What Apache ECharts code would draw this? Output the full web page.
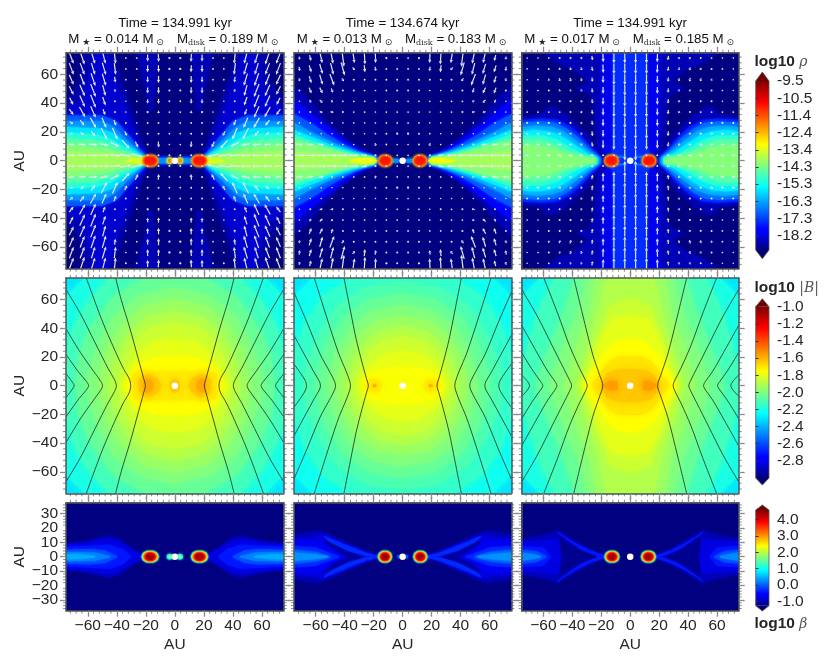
<!DOCTYPE html>
<html><head><meta charset="utf-8">
<style>html,body{margin:0;padding:0;background:#fff}#c{width:830px;height:664px}</style>
<script src="https://cdn.jsdelivr.net/npm/echarts@6/dist/echarts.min.js"></script>
</head><body><div id="c"></div>
<script>
// ---------- tick labels ----------
const xTicks=[-60,-40,-20,0,20,40,60];
const yTicksTall=[-60,-40,-20,0,20,40,60];
const yTicksShort=[-30,-20,-10,0,10,20,30];
const yTicksShortExtra=[-20,20];
const cbRhoTicks=[-9.5,-10.47,-11.43,-12.4,-13.37,-14.33,-15.3,-16.27,-17.25,-18.2];
const cbMagTicks=[-1,-1.2,-1.4,-1.6,-1.8,-2,-2.2,-2.4,-2.6,-2.8];
const cbBetaTicks=[4,3,2,1,0,-1];
// ---------- headers ----------
const times=['134.991','134.674','134.991'];
const mStar=['0.014','0.013','0.017'];
const mDisk=['0.189','0.183','0.185'];
// ---------- fields: filled contours [level, boundary in the upper right quadrant, AU] ----------
const rho1=[
[-19,[[0,0],[75,0],[75,75],[0,75]]],
[-18.5,[[12,75],[14,50],[16,35],[18,35],[20,50],[24,65],[25,75],[25,75]]],
[-18.6,[[18,0],[18,3],[22,10],[28,30],[36,53],[43,75],[62,75],[66,53],[75,42],[75,0]]],
[-18.25,[[20,0],[20,5],[28,20],[35,38],[43,62],[47,75],[55,75],[60,55],[65,42],[75,36],[75,0]]],
[-18,[[4,0],[5,2.5],[20,3],[20,0]]],
[-17,[[20,0],[20,3],[30,15],[40,27],[50,31],[75,31],[75,0]]],
[-16.4,[[21,0],[21,3],[32,13],[42,23],[50,27],[75,27],[75,0]]],
[-15.7,[[22,0],[22,3],[33,11],[43,19],[52,22],[75,23],[75,0]]],
[-15.1,[[22,0],[22,2.5],[35,9],[45,15],[55,18],[75,19],[75,0]]],
[-14.6,[[22,0],[22,2],[35,6.5],[46,11.5],[56,14],[75,15],[75,0]]],
[-14.2,[[21,0],[21,1.5],[35,4.5],[50,8.5],[75,11],[75,0]]],
[-13.9,[[21,0],[21,1],[35,3],[50,5],[75,6],[75,0]]],
[-13.4,[[20,0],[20,2],[24,1.5],[30,.8],[33,0]]],
[-16.5,[[5,0],[5,1.6],[12,1.6],[12,0]]],
[-15,[[1.7,0],[2,1.5],[3.5,2],[5,1.5],[5.3,0]]],
[-13,[[2.2,0],[2.6,1.3],[3.5,1.7],[4.4,1.3],[4.8,0]]],
[-12,[[2.6,0],[3,1.2],[3.5,1.4],[4,1.2],[4.4,0]]]];
const rho2=[
[-19,[[0,0],[75,0],[75,75],[0,75]]],
[-18.5,[[10,0],[10,2],[16,3],[25,6],[35,12],[45,20],[55,30],[65,42],[75,52],[75,0]]],
[-17.8,[[16,0],[16,2.5],[27,6],[38,12],[48,20],[58,28],[68,36],[75,42],[75,0]]],
[-17,[[18,0],[18,2],[30,6],[42,12],[52,18],[62,25],[75,32],[75,0]]],
[-16.3,[[18,0],[18,2],[32,6],[45,11],[56,16],[66,21],[75,26],[75,0]]],
[-15.6,[[20,0],[20,2],[34,5.5],[48,10],[60,15],[75,21],[75,0]]],
[-15,[[20,0],[20,2],[36,5],[50,9],[62,13],[75,18],[75,0]]],
[-14.6,[[20,0],[20,1.8],[38,4.5],[52,8.5],[63,11.5],[75,15.5],[75,0]]],
[-14.2,[[20,0],[20,1.5],[32,3],[44,6],[55,9],[75,13],[75,0]]],
[-13.9,[[20,0],[30,1.8],[42,3.5],[58,4.5],[75,6],[75,0]]],
[-13.2,[[18,0],[20,1.5],[26,1.5],[32,.7],[36,0]]],
[-16.5,[[2,0],[3,1],[8,1],[8,0]]]];
const rho3=[
[-19,[[0,0],[75,0],[75,75],[0,75]]],
[-18.5,[[0,0],[20,0],[22,8],[24,20],[25,40],[28,47],[37,50],[28,55],[38,63],[50,68],[60,75],[0,75]]],
[-18.5,[[18,0],[18,2],[22,6],[30,18],[38,26],[45,32],[53,37],[57,37],[62,32],[75,30],[75,0]]],
[-18,[[0,0],[15,0],[15,3],[19,10],[20,30],[20,75],[0,75]]],
[-17.4,[[0,0],[13,0],[13,3],[12,10],[12,75],[0,75]]],
[-17.5,[[20,0],[20,2],[26,8],[35,18],[42,24],[50,28],[60,29],[75,28],[75,0]]],
[-16.8,[[21,0],[21,2],[27,7],[36,16],[44,22],[52,26],[62,27],[75,26],[75,0]]],
[-16.2,[[22,0],[22,2],[28,6],[38,14],[46,20],[54,23],[65,24],[75,23],[75,0]]],
[-15.6,[[23,0],[23,2],[30,5],[40,12],[48,17],[56,20],[66,21],[75,20],[75,0]]],
[-15,[[24,0],[24,2],[32,4],[42,9],[50,14],[60,17],[75,17],[75,0]]],
[-14.6,[[24,0],[24,1.5],[34,3.5],[44,7],[52,11],[62,14],[75,14],[75,0]]],
[-14.2,[[24,0],[24,1],[36,2.5],[46,5],[56,9],[75,11],[75,0]]],
[-16,[[3.5,0],[3.5,2.3],[9,2.3],[9,0]]],
[-17.4,[[3.5,0],[3.5,1.6],[9,1.6],[9,0]]]];
const rhoClumpCentre=[17,12,13], rhoClumpHalfWidth=[5,4.3,4.4];
const rhoClump=[
[-13,[[-1,0],[-.85,2.5],[-.4,3.5],[.4,3.5],[.85,2.5],[1,0]]],
[-12.2,[[-.92,0],[-.78,2.3],[-.37,3.3],[.37,3.3],[.78,2.3],[.92,0]]],
[-11.4,[[-.85,0],[-.72,2.1],[-.34,3],[.34,3],[.72,2.1],[.85,0]]],
[-10.9,[[-.7,0],[-.56,1.6],[-.28,2.2],[.28,2.2],[.56,1.6],[.7,0]]]];

const mag1=[
[-2.3,[[0,0],[75,0],[75,75],[0,75]]],
[-2.2,[[0,0],[0,75],[62,75],[75,62],[75,0]]],
[-2.12,[[0,0],[0,75],[45,75],[60,58],[70,40],[75,20],[75,0]]],
[-2.05,[[0,0],[0,75],[20,75],[42,62],[58,40],[66,20],[68,0]]],
[-2,[[0,0],[0,68],[25,62],[42,48],[52,30],[58,12],[60,0]]],
[-1.95,[[0,0],[0,60],[22,55],[36,42],[46,26],[50,10],[52,0]]],
[-1.9,[[0,0],[0,52],[20,47],[32,36],[40,22],[44,8],[45,0]]],
[-1.85,[[0,0],[0,44],[18,40],[28,30],[35,18],[38,6],[39,0]]],
[-1.8,[[0,0],[0,32],[15,30],[24,23],[30,14],[33,5],[36,0]]],
[-1.75,[[0,0],[0,20],[14,19],[24,15],[29,10],[31,4],[34,0]]],
[-1.71,[[0,0],[0,10],[14,9.5],[22,11],[28,9],[30,4],[28,0]]],
[-1.65,[[9,0],[12,5],[18,8],[23,6],[25,2],[24,0]]],
[-1.58,[[15,0],[16,3],[19,5],[21,3.5],[21.5,0]]],
[-1.65,[[0,0],[0,5],[2,4],[3,1.5],[3,0]]]];
const mag2=[
[-2.3,[[0,0],[75,0],[75,75],[0,75]]],
[-2.22,[[0,0],[0,75],[62,75],[75,62],[75,0]]],
[-2.15,[[0,0],[0,75],[35,75],[55,62],[68,42],[75,20],[75,0]]],
[-2.1,[[0,0],[0,72],[25,68],[45,55],[58,35],[66,15],[68,0]]],
[-2.05,[[0,0],[0,64],[22,60],[40,48],[52,30],[58,12],[60,0]]],
[-2,[[0,0],[0,56],[20,52],[35,42],[45,26],[50,10],[52,0]]],
[-1.95,[[0,0],[0,48],[18,45],[31,35],[39,22],[44,8],[45,0]]],
[-1.9,[[0,0],[0,41],[16,38],[27,29],[34,18],[38,6],[39,0]]],
[-1.85,[[0,0],[0,34],[14,31],[23,24],[29,14],[33,5],[34,0]]],
[-1.8,[[0,0],[0,24],[12,22],[20,17],[26,10],[28,4],[29,0]]],
[-1.76,[[0,0],[0,13],[10,12],[20,10],[26,6],[28,0]]],
[-1.72,[[14,0],[16,4],[20,5],[24,4],[26,0]]],
[-1.6,[[18,0],[19,1.2],[21,0]]]];
const mag3=[
[-2.3,[[0,0],[75,0],[75,75],[0,75]]],
[-2.2,[[0,0],[0,75],[62,75],[75,62],[75,0]]],
[-2.12,[[0,0],[0,75],[52,75],[62,55],[70,30],[75,10],[75,0]]],
[-2.05,[[0,0],[0,75],[38,75],[46,50],[55,28],[62,10],[65,0]]],
[-2,[[0,0],[0,75],[30,75],[36,50],[45,30],[52,10],[55,0]]],
[-1.95,[[0,0],[0,75],[24,75],[28,50],[36,30],[42,10],[45,0]]],
[-1.9,[[0,0],[0,75],[16,75],[22,50],[28,30],[34,12],[37,0]]],
[-1.85,[[0,0],[0,60],[14,55],[18,42],[24,28],[28,14],[33,0]]],
[-1.8,[[0,0],[0,48],[12,46],[18,36],[22,26],[26,14],[30,2],[32,0]]],
[-1.75,[[0,0],[0,32],[10,30],[17,23],[22,15],[27,8],[31,2],[31,0]]],
[-1.7,[[0,0],[0,20],[8,20],[14,17],[19,11],[23,5],[26,1.5],[26,0]]],
[-1.64,[[0,0],[0,11],[6,11],[12,10],[16,8],[18,4],[20,1],[20,0]]],
[-1.56,[[9,0],[9,3],[14,3],[17,1.5],[18,0]]]];

const beta1=[
[-1.25,[[0,0],[75,0],[75,75],[0,75]]],
[-.95,[[20,0],[30,6],[38,12],[45,14.5],[55,12],[65,10],[75,9],[75,0]]],
[-.7,[[21,0],[32,6],[40,11],[48,12],[58,10],[75,8],[75,0]]],
[-.4,[[30,0],[36,5],[45,8],[55,7.5],[75,6.5],[75,0]]],
[-.1,[[40,0],[48,4],[58,5],[75,4.5],[75,0]]],
[.2,[[45,0],[55,2.5],[75,3],[75,0]]],
[.45,[[55,0],[65,1.2],[75,1.5],[75,0]]],
[.8,[[1.5,0],[2,1.3],[3.5,1.7],[5,1.3],[5.3,0]]],
[1.6,[[2.6,0],[3.2,.9],[4,.9],[4.5,0]]]];
const beta2=[
[-1.25,[[0,0],[75,0],[75,75],[0,75]]],
[-.95,[[15,0],[25,3.5],[40,10],[50,15],[58,18],[66,17],[75,15],[75,0]]],
[-.7,[[15,0],[25,3],[40,9],[50,13],[56,15],[62,13],[75,12],[75,0]]],
[-1.05,[[22,0],[32,2.5],[42,6],[50,10],[54,10],[48,5],[42,2],[40,0]]],
[-.3,[[16,0],[25,2.2],[36,6.5],[46,10.5],[54,14],[50,10.5],[38,4.5],[26,1],[20,0]]],
[-.6,[[40,0],[48,4],[54,9],[62,11],[75,10],[75,0]]],
[-.3,[[44,0],[52,3],[60,6],[75,7],[75,0]]],
[0,[[50,0],[60,3],[75,4.5],[75,0]]],
[.3,[[52,0],[62,1.5],[75,2.5],[75,0]]],
[-.1,[[2,0],[2.5,1],[3.2,1],[3.4,0]]]];
const beta3=[
[-1.25,[[0,0],[75,0],[75,75],[0,75]]],
[-.95,[[16,0],[28,5],[40,12],[50,18],[60,15],[75,12],[75,0]]],
[-1.15,[[22,0],[32,3],[42,8],[48,12.5],[48,4],[47,0]]],
[-.4,[[16,0],[28,4],[38,9],[46,14],[50,17],[44,12.5],[34,5.5],[26,2],[20,0]]],
[-.7,[[48,0],[50,12],[60,11],[75,10],[75,0]]],
[-.4,[[55,0],[60,6],[75,7],[75,0]]],
[-.1,[[58,0],[65,3.5],[75,4.5],[75,0]]],
[.25,[[62,0],[68,1.5],[75,2.5],[75,0]]]];
const betaClumpCentre=[17,12.2,12.6], betaClumpHalfWidth=[5.6,4.5,4.8];
const betaClump=[
[.8,[[-1,0],[-.85,2.5],[-.4,3.7],[.4,3.7],[.85,2.5],[1,0]]],
[1.6,[[-.92,0],[-.78,2.3],[-.37,3.4],[.37,3.4],[.78,2.3],[.92,0]]],
[2.4,[[-.85,0],[-.72,2.1],[-.34,3.1],[.34,3.1],[.72,2.1],[.85,0]]],
[3,[[-.78,0],[-.65,1.9],[-.3,2.8],[.3,2.8],[.65,1.9],[.78,0]]],
[3.8,[[-.62,0],[-.5,1.7],[-.24,2.4],[.24,2.4],[.5,1.7],[.62,0]]],
[4.3,[[-.42,0],[-.34,1.2],[-.16,1.7],[.16,1.7],[.34,1.2],[.42,0]]]];
// ---------- magnetic field lines, upper right quadrant, AU ----------
const lines1=[
[[20.3,0],[21.5,5],[25,18],[31,40],[37,60],[40.8,75]],
[[30.4,0],[31.5,5],[35.5,12],[41.5,25],[50,45],[61,75]],
[[40.3,0],[41.5,4],[46,12],[55,30],[65,50],[75,67]],
[[49.8,0],[51,3],[56,10],[65,23],[75,39.6]],
[[59.4,0],[61,3],[66,9],[75,21.7]],
[[69.4,0],[71,3],[75,8.3]]];
const lines2=[
[[23.7,0],[25,5],[28,16],[32,32],[36,52],[40.5,75]],
[[36,0],[36.5,3],[39,10],[44,22],[50,40],[61,75]],
[[46.3,0],[47,3],[50,9],[57,22],[66,44],[75,65]],
[[56.7,0],[57.5,3],[61,9],[68,22],[75,35]],
[[66.4,0],[67,3],[70,8],[75,15]]];
const lines3=[
[[18.9,0],[21,7],[26,22],[33,50],[39,75]],
[[29.7,0],[31,4],[35,12],[42,28],[50,50],[59.7,75]],
[[40.5,0],[42,4],[46,12],[54,28],[64,48],[75,67]],
[[50.7,0],[52,3],[57,10],[65,24],[75,42]],
[[60.4,0],[62,3],[67,10],[75,23]],
[[69.6,0],[71,3],[75,7.4]]];
// ---------- velocity arrows: grid and inward components for the upper right quadrant, rows top to bottom ----------
const arrowX=[3.75,11.25,18.75,26.25,33.75,41.25,48.75,56.25,63.75,71.25];
const arrowY=[71.25,63.75,56.25,48.75,41.25,33.75,26.25,18.75,11.25,3.75];
const vel1V=[
[1.5,5.5,5,1,1,8,8,8,9,8],[1.5,5,5,1,.7,8,8.5,8,8,8],[1.5,5,4,.7,.7,4,8.5,9,8,7],[1.2,4.5,4,.7,.5,2,7.5,9,8,6],
[1,3.5,3,.7,.5,1,6,9,8,5],[.8,2,1.5,.5,.5,1,4,8,7,4],[.8,1,1,.5,1,4,7,7,4,2],[.7,1,1,1,3,8,8,4,2,1],
[.7,4,1,4,6,3,1,.5,.5,.5],[.5,.5,.5,2,1,.5,0,0,0,0]];
const vel1U=[
[0,.3,0,0,0,.8,2,2.5,3,3],[0,.2,0,0,0,1,2.5,2.5,3,3],[0,0,0,0,0,.5,2.5,3,3,3],[0,0,0,0,0,.3,2,3.5,3.5,3],
[0,0,0,0,0,.2,2,3.5,3.5,2.5],[0,0,0,0,0,.3,1.5,3.5,4,3],[0,0,0,0,.3,1.5,3,4,3,2],[0,0,0,.3,1.5,3.5,4,3,2,1],
[0,.3,.5,2,5,6,6,6,5,4],[1,1,.5,8,8,8,7,7,7,6]];
const vel2V=[
[1,1.5,7,9,7,12,8,7,4,2],[1,1,3,5,2,9,8,7,5,3],[1,1,1,1,1,2,8,7,5,2],[1,1,.7,.7,1,1,3,4,4,1],
[.7,.7,.7,.7,.7,.7,1,2,2,.5],[.7,.7,.5,1,.5,.5,.7,.7,1,.5],[.7,.7,.5,.5,.5,.5,.5,.5,.5,.5],[1.5,1,.7,.5,.5,.5,.5,.5,.5,.5],
[.7,1,2,.5,.5,.5,.5,.5,.5,.5],[.5,.5,1,1,.3,.2,0,0,0,0]];
const vel2U=[
[0,.2,.2,.5,1,1.5,1.5,1.5,1,.5],[0,.2,.5,.5,1.5,2.5,2,2,1.5,.5],[0,.2,.2,.2,.5,1.5,3,2,1.5,.5],[0,0,0,0,.3,.5,1,2,1.5,.5],
[0,0,0,.3,.3,.5,1.5,2,1,.3],[0,0,.2,0,.5,1,2,2,.5,.2],[0,0,0,0,.2,.2,.3,.3,.3,.3],[0,0,0,0,.2,.2,.3,.3,.3,.3],
[0,0,.5,.5,.5,.5,1.5,4,5,5],[.5,.5,1,4,7,7.5,7.5,7.5,7.5,7.5]];
const vel3V=[
[7.6,7.6,6,3,1.5,1.5,1,.7,.5,.5],[7.6,7.6,6,3,2,2,1.5,1,.7,.5],[7.6,7.6,5,3,2,2.5,2,1.5,.7,.5],[7.6,7.6,5,3,1.5,1.5,1.5,1,.7,.5],
[7.6,7.6,5,3,1.5,1.2,1,1,.5,.5],[7.6,7.6,5,3,1.5,1,.7,.5,.5,.5],[7.6,7.6,5,3,1.5,1,.5,.3,.3,.3],[7.6,7.6,5,3.5,1.5,.7,.3,.3,.3,.3],
[7.6,7.6,6,3,1,.3,.3,.3,.3,.3],[7.6,1,1,.5,.2,0,0,0,0,0]];
const vel3U=[
[0,0,.2,.5,.5,.5,.5,.5,.3,.3],[0,0,.2,.5,.5,.7,.7,.5,.3,.3],[0,0,0,.3,.5,.7,.7,.5,.3,.3],[0,0,0,.3,.5,.5,.5,.5,.3,.3],
[0,0,0,.3,.5,.5,.5,.5,.3,.3],[0,0,0,.3,.5,.5,.7,.7,.7,.7],[0,0,0,.3,.5,.7,1,1.2,1.2,1.2],[0,0,0,.3,.7,1.5,2,2,2,2],
[0,0,0,.5,1.5,2,2.5,2.5,2.5,2.5],[0,0,.5,2,2.5,2.5,2.5,2.5,2.5,2.5]];
// small extra marks: white protostar dots
const dotsX=[[0],[0],[0]];
// ---------- palette ----------
const jetStops=[[0,'#00007f'],[.11,'#0000ff'],[.125,'#0000ff'],[.375,'#00ffff'],[.625,'#ffff00'],[.875,'#ff0000'],[1,'#7f0000']];
const frameColor='#4f5656', textColor='#262626', tickColor='#8a8a8a';
const font='"Liberation Sans",Arial,sans-serif';
// ---------- layout ----------
const colX=[[66,283.7],[294,511.3],[521.7,738.7]];
const rowY=[[52.7,268.7],[278,493.3],[502.7,610.7]];
const rowRange=[75,75,37.5];
const rowTicks=[yTicksTall,yTicksTall,yTicksShort];
const rowMinorStep=[4,4,2];
const ranges=[[-19,-9.5],[-3,-1],[-1.25,4.5]];
const contourBlur=[3,7,2];

function clamp(v){return Math.max(0,Math.min(1,v));}
function jet(t){
  const r=clamp(Math.min(4*t-1.5,-4*t+4.5)),g=clamp(Math.min(4*t-.5,-4*t+3.5)),b=clamp(Math.min(4*t+.5,-4*t+2.5));
  return 'rgb('+Math.round(r*255)+','+Math.round(g*255)+','+Math.round(b*255)+')';
}
function placeClumps(shape,cx,hw){return shape.map(c=>[c[0],c[1].map(p=>[cx+p[0]*hw,p[1]])]);}
const fields=[
 [rho1.concat(placeClumps(rhoClump,rhoClumpCentre[0],rhoClumpHalfWidth[0])),
  rho2.concat(placeClumps(rhoClump,rhoClumpCentre[1],rhoClumpHalfWidth[1])),
  rho3.concat(placeClumps(rhoClump,rhoClumpCentre[2],rhoClumpHalfWidth[2]))],
 [mag1,mag2,mag3],
 [beta1.concat(placeClumps(betaClump,betaClumpCentre[0],betaClumpHalfWidth[0])),
  beta2.concat(placeClumps(betaClump,betaClumpCentre[1],betaClumpHalfWidth[1])),
  beta3.concat(placeClumps(betaClump,betaClumpCentre[2],betaClumpHalfWidth[2]))]];
const fieldLines=[lines1,lines2,lines3];
const velV=[vel1V,vel2V,vel3V], velU=[vel1U,vel2U,vel3U];

const grid=[],xAxis=[],yAxis=[],series=[],title=[];
const fmt=v=>String(v).replace('-','\u2212');
function frameAxis(g,pos,ticks,range,showLabel,name){
  return {type:'value',gridIndex:g,position:pos,min:-range,max:range,z:10,
    axisLine:{show:true,onZero:false,lineStyle:{color:frameColor,width:1.5}},
    axisTick:{show:true,customValues:ticks,length:6,lineStyle:{color:tickColor,width:1.3}},
    axisLabel:{show:showLabel,customValues:ticks,formatter:fmt,color:textColor,fontSize:15.5,fontFamily:font,margin:pos==='bottom'?7:8,interval:0,hideOverlap:false,showMinLabel:true,showMaxLabel:true},
    splitLine:{show:false},
    name:name||'',nameLocation:'center',nameGap:pos==='bottom'?26:35,
    nameTextStyle:{color:textColor,fontSize:15.5,fontFamily:font}};
}
function minorValues(range,step,major){
  const out=[];
  for(let v=-Math.floor(range/step)*step;v<=range;v+=step){ if(!major.includes(v)) out.push(v); }
  return out;
}
for(let r=0;r<3;r++)for(let c=0;c<3;c++){
  const g=grid.length;
  const lvl=ranges[r];
  grid.push({show:true,borderWidth:0,backgroundColor:jet(0),left:colX[c][0],width:colX[c][1]-colX[c][0],top:rowY[r][0],height:rowY[r][1]-rowY[r][0]});
  const yr=rowRange[r];
  xAxis.push(frameAxis(g,'bottom',xTicks,75,r===2,r===2?'AU':''));
  xAxis.push(frameAxis(g,'top',xTicks,75,false));
  yAxis.push(frameAxis(g,'left',rowTicks[r],yr,c===0,c===0?'AU':''));
  yAxis.push(frameAxis(g,'right',rowTicks[r],yr,false));
  const base={xAxisIndex:2*g,yAxisIndex:2*g,silent:true,animation:false};
  const contours=fields[r][c];
  series.push(Object.assign({},base,{type:'custom',z:1,clip:true,encode:{x:0,y:1},
    data:contours.map(k=>[0,0,k[0]]),
    renderItem:(params,api)=>{
      const k=contours[params.dataIndex];
      const col=jet(clamp((k[0]-lvl[0])/(lvl[1]-lvl[0])));
      return {type:'group',children:[[1,1],[-1,1],[1,-1],[-1,-1]].map(s=>({type:'polygon',
        shape:{points:k[1].map(p=>api.coord([s[0]*p[0],s[1]*p[1]]))},
        style:{fill:col,stroke:col,lineWidth:1,shadowBlur:contourBlur[r],shadowColor:col}}))};
    }}));
  // field lines (middle row)
  if(r===1){
    fieldLines[c].forEach(ln=>{
      [1,-1].forEach(sx=>{
        const half=ln.slice().reverse().map(p=>[sx*p[0],p[1]]);
        const low=ln.slice(1).map(p=>[sx*p[0],-p[1]]);
        series.push(Object.assign({},base,{type:'line',z:3,showSymbol:false,symbol:'none',smooth:.3,clip:true,
          data:half.concat(low),lineStyle:{color:'#1c2a24',width:1,opacity:.8}}));
      });
    });
  }
  // velocity arrows (top row)
  if(r===0){
    const V=velV[c],U=velU[c],data=[];
    arrowY.forEach((y,i)=>arrowX.forEach((x,j)=>{
      [[1,1],[-1,1],[1,-1],[-1,-1]].forEach(s=>data.push([s[0]*x,s[1]*y,-s[0]*U[i][j],-s[1]*V[i][j]]));
    }));
    series.push(Object.assign({},base,{type:'custom',z:4,clip:true,encode:{x:0,y:1},data,
      renderItem:(params,api)=>{
        const x=api.value(0),y=api.value(1),u=api.value(2),v=api.value(3);
        const a=api.coord([x-u/2,y-v/2]),b=api.coord([x+u/2,y+v/2]);
        const dx=b[0]-a[0],dy=b[1]-a[1],len=Math.hypot(dx,dy);
        const col='#e4e6ee';
        if(len<2.2){return {type:'circle',shape:{cx:(a[0]+b[0])/2,cy:(a[1]+b[1])/2,r:Math.max(.7,.6+len*.25)},style:{fill:col}};}
        const ux=dx/len,uy=dy/len,hl=Math.min(3.5,len*.5),hw=1.6;
        const nx=-uy,ny=ux,bx=b[0]-ux*hl,by=b[1]-uy*hl;
        return {type:'group',children:[
          {type:'line',shape:{x1:a[0],y1:a[1],x2:bx,y2:by},style:{stroke:col,lineWidth:1.2}},
          {type:'polygon',shape:{points:[b,[bx+nx*hw,by+ny*hw],[bx-nx*hw,by-ny*hw]]},style:{fill:col}}]};
      }}));
  }
  // protostar dot
  series.push(Object.assign({},base,{type:'scatter',z:6,symbol:'circle',symbolSize:6.5,
    itemStyle:{color:'#ffffff',opacity:1},data:dotsX[c].map(x=>[x,0])}));
  // minor ticks on all four sides
  const mx=minorValues(75,4,xTicks), my=minorValues(yr,rowMinorStep[r],rowTicks[r]);
  const mdata=mx.map(v=>[v,0,0]).concat(my.map(v=>[0,v,1]));
  series.push(Object.assign({},base,{type:'custom',z:2,clip:false,encode:{x:0,y:1},data:mdata,
    renderItem:(params,api)=>{
      const stroke={stroke:tickColor,lineWidth:1};
      if(api.value(2)===0){
        const v=api.value(0),b=api.coord([v,-yr]),t=api.coord([v,yr]);
        return {type:'group',children:[
          {type:'line',shape:{x1:b[0],y1:b[1],x2:b[0],y2:b[1]+3},style:stroke},
          {type:'line',shape:{x1:t[0],y1:t[1],x2:t[0],y2:t[1]-3},style:stroke}]};
      }
      const v=api.value(1),l=api.coord([-75,v]),q=api.coord([75,v]);
      return {type:'group',children:[
        {type:'line',shape:{x1:l[0],y1:l[1],x2:l[0]-3,y2:l[1]},style:stroke},
        {type:'line',shape:{x1:q[0],y1:q[1],x2:q[0]+3,y2:q[1]},style:stroke}]};
    }}));
}
// ---------- colour bars ----------
const bars=[
 {top:81,bottom:250,min:-19,max:-9.5,ticks:cbRhoTicks,tipTop:72,tipBot:258.7},
 {top:306.7,bottom:478,min:-3,max:-1,ticks:cbMagTicks,tipTop:298.7,tipBot:485},
 {top:510.1,bottom:605.7,min:-1.25,max:4.56,ticks:cbBetaTicks,tipTop:505,tipBot:611}];
bars.forEach(b=>{
  const g=grid.length;
  grid.push({left:755.7,width:13.3,top:b.top,height:b.bottom-b.top});
  xAxis.push({type:'value',gridIndex:g,min:0,max:1,show:false});
  yAxis.push({type:'value',gridIndex:g,position:'right',min:b.min,max:b.max,z:10,
    axisLine:{show:false},splitLine:{show:false},
    axisTick:{show:true,customValues:b.ticks,length:3,lineStyle:{color:'#333',width:1}},
    axisLabel:{show:true,customValues:b.ticks,margin:8,interval:0,color:textColor,fontSize:15.5,fontFamily:font,
      formatter:v=>v.toFixed(1),showMinLabel:true,showMaxLabel:true}});
  series.push({type:'custom',xAxisIndex:xAxis.length-1,yAxisIndex:yAxis.length-1,silent:true,animation:false,z:3,clip:false,
    encode:{x:0,y:1},data:[[0,b.min,1,b.max]],
    renderItem:(params,api)=>{
      const p0=api.coord([0,api.value(3)]),p1=api.coord([1,api.value(1)]);
      const x0=p0[0],x1=p1[0],yt=p0[1],yb=p1[1],cx=(x0+x1)/2;
      const grad=new echarts.graphic.LinearGradient(0,1,0,0,jetStops.map(s=>({offset:s[0],color:s[1]})));
      return {type:'group',children:[
        {type:'rect',shape:{x:x0,y:yt,width:x1-x0,height:yb-yt},style:{fill:grad}},
        {type:'polygon',shape:{points:[[x0,yt],[cx,b.tipTop],[x1,yt]]},style:{fill:'#6e0000'}},
        {type:'polygon',shape:{points:[[x0,yb],[cx,b.tipBot],[x1,yb]]},style:{fill:'#00006e'}},
        {type:'polygon',shape:{points:[[x0,yt],[cx,b.tipTop],[x1,yt],[x1,yb],[cx,b.tipBot],[x0,yb]]},style:{fill:'none',stroke:'#555',lineWidth:.8}}]};
    }});
});
// second label-only axis for the crowded bottom-left panel, so all of its tick labels print
yAxis.push({type:'value',gridIndex:6,position:'left',min:-37.5,max:37.5,
  axisLine:{show:false},axisTick:{show:false},splitLine:{show:false},
  axisLabel:{show:true,customValues:yTicksShortExtra,formatter:fmt,color:textColor,fontSize:15.5,fontFamily:font,margin:8,interval:0,showMinLabel:true,showMaxLabel:true}});
// ---------- titles ----------
const rich={
  star:{fontFamily:'"DejaVu Sans"',fontSize:9,color:textColor,verticalAlign:'bottom',padding:[6,0,0,0]},
  sun:{fontFamily:'"DejaVu Sans"',fontSize:9,color:textColor,padding:[6,0,0,0]},
  sub:{fontFamily:'"DejaVu Serif"',fontSize:8,color:'#333',padding:[6,0,0,0]},
  base:{fontFamily:font,fontSize:13.3,color:'#111'}};
const mLeft=[68.3,296.7,524.3],dLeft=[177,405,632.7],tCentre=[175,402.5,630];
[0,1,2].forEach(i=>{
  title.push({text:'Time = '+times[i]+' kyr',left:tCentre[i],top:16.5,padding:0,textAlign:'center',
    textStyle:{fontFamily:font,fontSize:13.3,fontWeight:'normal',color:'#111'}});
  title.push({text:'{base|M}{star| \u2605}{base| = '+mStar[i]+' M}{sun| \u2299}',left:mLeft[i],top:32,padding:0,
    textStyle:{rich,fontSize:13.3,fontWeight:'normal'}});
  title.push({text:'{base|M}{sub|disk}{base| = '+mDisk[i]+' M}{sun| \u2299}',left:dLeft[i],top:32,padding:0,
    textStyle:{rich,fontSize:13.3,fontWeight:'normal'}});
});
const lblRich={b:{fontFamily:font,fontSize:15.5,fontWeight:'bold',color:textColor},
  m:{fontFamily:'"DejaVu Serif"',fontStyle:'italic',fontWeight:'normal',fontSize:14,color:'#555'}};
[['{b|log10} {m|\u03c1}',54],['{b|log10} {m|\u007cB\u007c}',280],['{b|log10} {m|\u03b2}',616]].forEach(t=>{
  title.push({text:t[0],left:754.5,top:t[1],padding:0,textStyle:{rich:lblRich,fontSize:15.5,fontWeight:'normal'}});
});
const chart=echarts.init(document.getElementById('c'),null,{renderer:'canvas'});
chart.setOption({animation:false,backgroundColor:'#fff',title,grid,xAxis,yAxis,series,tooltip:{show:false}});
</script></body></html>
